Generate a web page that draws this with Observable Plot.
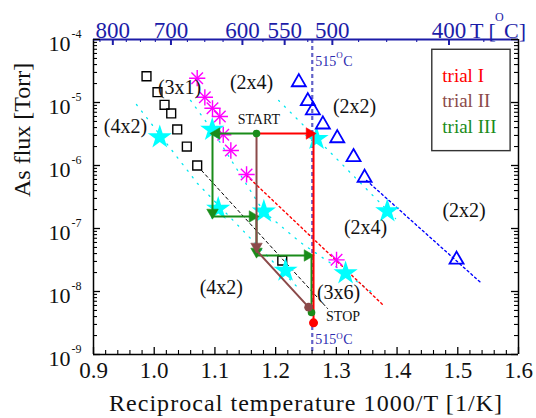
<!DOCTYPE html>
<html><head><meta charset="utf-8">
<script src="https://cdn.jsdelivr.net/npm/d3@7"></script>
<script src="https://cdn.jsdelivr.net/npm/@observablehq/plot@0.6"></script>
<style>
body{margin:0;background:#fff}
#chart svg{display:block;background:#fff}
</style></head><body><div id="chart"></div>
<script>
// ---------- data ----------
const squaresX = [0.9873, 1.0054, 1.0170, 1.0280, 1.0379, 1.0537, 1.0708, 1.2109];
const squaresY = [2.61e-5, 1.46e-5, 9.2e-6, 6.7e-6, 3.73e-6, 2.0e-6, 1.0e-6, 3.1e-8];
const astX = [1.0708, 1.0834, 1.0960, 1.1081, 1.1137, 1.1262, 1.1521, 1.3003];
const astY = [2.43e-5, 1.21e-5, 8.1e-6, 6.0e-6, 3.07e-6, 1.73e-6, 7.2e-7, 3.18e-8];
const starX = [1.0092, 1.0956, 1.2674, 1.1054, 1.1806, 1.3839, 1.2163, 1.3152];
const starY = [2.81e-6, 3.69e-6, 2.65e-6, 2.06e-7, 1.86e-7, 1.88e-7, 2.15e-8, 1.95e-8];
const triX = [1.2382, 1.2530, 1.2613, 1.2778, 1.3015, 1.3283, 1.3465, 1.4980];
const triY = [2.1e-5, 1.05e-5, 7.5e-6, 4.48e-6, 2.71e-6, 1.36e-6, 6.4e-7, 3.2e-8];

// guide lines (x, y pairs)
const blackDashX = [1.0779, 1.2855], blackDashY = [8.34e-7, 5.37e-9];
const redDotX = [1.1521, 1.3778], redDotY = [6.94e-7, 6.0e-9];
const blueDotX = [1.3498, 1.5376], blueDotY = [5.78e-7, 1.39e-8];
const cyan1X = [0.9708, 1.0713, 1.1619, 1.2410], cyan1Y = [9.29e-6, 5.18e-7, 6.46e-8, 1.04e-8];
const cyan2X = [1.0598, 1.0960, 1.1801, 1.2410, 1.3152, 1.3596], cyan2Y = [1.08e-5, 3.6e-6, 1.86e-7, 6.0e-8, 1.93e-8, 9.6e-9];
const cyan3X = [1.2048, 1.2674, 1.3975], cyan3Y = [1.08e-5, 2.69e-6, 1.44e-7];
const line515 = 1.2603;

// trials
const trial1X = [1.1685, 1.2624, 1.2624], trial1Y = [3.22e-6, 3.22e-6, 3.18e-9];
const trial2X = [1.1685, 1.1685, 1.2542], trial2Y = [3.22e-6, 4.48e-8, 5.64e-9];
const trial3X = [1.1685, 1.0960, 1.0960, 1.1685, 1.1685, 1.2591, 1.2591];
const trial3Y = [3.22e-6, 3.22e-6, 1.55e-7, 1.55e-7, 3.73e-8, 3.73e-8, 4.64e-9];
// arrowheads: index of path point, direction
const arrows1 = [[1, "right"]];
const arrows2 = [[1, "down"]];
const arrows3 = [[1, "left"], [2, "down"], [3, "right"], [4, "down"], [5, "right"]];

// labels
const phaseText = ["(3x1)", "(2x4)", "(4x2)", "(2x2)", "(2x2)", "(2x4)", "(4x2)", "(3x6)"];
const phaseX = [1.0417, 1.1603, 0.9527, 1.3300, 1.5104, 1.3481, 1.1106, 1.3036];
const phaseY = [1.73e-5, 2.08e-5, 4.16e-6, 8.65e-6, 1.93e-7, 1.05e-7, 1.17e-8, 9.75e-9];
const markText = ["START", "STOP"];
const markX = [1.1723, 1.3110];
const markY = [5.43e-6, 4.01e-9];

const legendText = ["trial I", "trial II", "trial III"];
const legendColor = ["#ff0000", "#8b4a4a", "#1a8c1a"];
const legendX = 1.4745;
const legendY = [2.61e-5, 1.06e-5, 4.16e-6];
const legendBox = {x1: 1.458, x2: 1.587, y1: 6.87e-5, y2: 1.69e-6};

const xMajor = [0.9, 1.0, 1.1, 1.2, 1.3, 1.4, 1.5, 1.6];
const xLabels = ["0.9", "1.0", "1.1", "1.2", "1.3", "1.4", "1.5", "1.6"];
const yDecades = [1e-4, 1e-5, 1e-6, 1e-7, 1e-8, 1e-9];
const yExp = ["-4", "-5", "-6", "-7", "-8", "-9"];
const topC = [800, 700, 600, 550, 500, 400];
const topMinorC = [825, 775, 750, 725, 675, 650, 625, 575, 525, 475, 450, 425, 375];

// ---------- helpers ----------
const serif = "Liberation Serif, Times New Roman, serif";
const invT = c => 1000 / (c + 273.15);
const zip = (xs, ys) => xs.map((x, i) => ({x, y: ys[i]}));
const fh = 315, fw = 425;
const xMinor = d3.range(0.9, 1.6001, 0.02).map(v => +v.toFixed(2)).filter(v => !xMajor.includes(v));
const yMinor = [];
for (const d of yDecades.slice(1)) for (let k = 2; k <= 9; k++) yMinor.push(d * k);

const colRed = "#ff0000", colBrown = "#8b4a4a", colGreen = "#1a8c1a";
const colAxisBlue = "#1c1ca8";
const cyan = "#00e8f0";

function arrowMarks(xs, ys, list, color) {
  const conf = {right: {rotate: 90, dx: -4, dy: 0}, left: {rotate: -90, dx: 4, dy: 0}, down: {rotate: 180, dx: 0, dy: -4}};
  return Object.keys(conf).map(dir => {
    const pts = list.filter(a => a[1] === dir).map(a => ({x: xs[a[0]], y: ys[a[0]]}));
    return Plot.dot(pts, {x: "x", y: "y", symbol: "triangle", r: 4.3, fill: color, stroke: color, strokeWidth: 0.5,
      rotate: conf[dir].rotate, dx: conf[dir].dx, dy: conf[dir].dy});
  });
}

const chart = Plot.plot({
  width: 536, height: 418,
  marginLeft: 93, marginRight: 18, marginTop: 39, marginBottom: 64,
  style: {background: "#fff", fontFamily: serif},
  x: {domain: [0.9, 1.6], axis: null},
  y: {type: "log", domain: [1e-9, 1e-4], axis: null},
  marks: [
    // guide lines
    Plot.line(zip(cyan1X, cyan1Y), {x: "x", y: "y", stroke: cyan, strokeWidth: 1.3, strokeDasharray: "1.3,7"}),
    Plot.line(zip(cyan2X, cyan2Y), {x: "x", y: "y", stroke: cyan, strokeWidth: 1.3, strokeDasharray: "1.3,7"}),
    Plot.line(zip(cyan3X, cyan3Y), {x: "x", y: "y", stroke: cyan, strokeWidth: 1.3, strokeDasharray: "1.3,7"}),
    Plot.line(zip(blackDashX, blackDashY), {x: "x", y: "y", stroke: "#000", strokeWidth: 1, strokeDasharray: "3,3"}),
    Plot.line(zip(redDotX, redDotY), {x: "x", y: "y", stroke: "#ff0000", strokeWidth: 1.4, strokeDasharray: "2,3"}),
    Plot.line(zip(blueDotX, blueDotY), {x: "x", y: "y", stroke: "#0000ff", strokeWidth: 1.4, strokeDasharray: "2,3"}),
    Plot.ruleX([line515], {stroke: "#6262c8", strokeWidth: 2.2, strokeDasharray: "4,3"}),
    // data symbols
    Plot.dot(zip(squaresX, squaresY), {x: "x", y: "y", symbol: "square", r: 5, stroke: "#000", fill: "none", strokeWidth: 1.4}),
    Plot.dot(zip(astX, astY), {x: "x", y: "y", symbol: "plus", r: 5.3, stroke: "#ff00ff", strokeWidth: 1.4}),
    Plot.dot(zip(astX, astY), {x: "x", y: "y", symbol: "times", r: 5.3, stroke: "#ff00ff", strokeWidth: 1.4}),
    Plot.dot(zip(starX, starY), {x: "x", y: "y", symbol: "star", r: 7.6, fill: "#00ffff", stroke: "none"}),
    Plot.dot(zip(triX, triY), {x: "x", y: "y", symbol: "triangle", r: 5.2, stroke: "#0000ff", fill: "none", strokeWidth: 1.8}),
    // trials
    Plot.line(zip(trial3X, trial3Y), {x: "x", y: "y", stroke: colGreen, strokeWidth: 2}),
    ...arrowMarks(trial3X, trial3Y, arrows3, colGreen),
    Plot.line(zip(trial2X, trial2Y), {x: "x", y: "y", stroke: colBrown, strokeWidth: 2}),
    ...arrowMarks(trial2X, trial2Y, arrows2, colBrown),
    Plot.line(zip(trial1X, trial1Y), {x: "x", y: "y", stroke: colRed, strokeWidth: 2}),
    ...arrowMarks(trial1X, trial1Y, arrows1, colRed),
    Plot.dot([{x: trial3X[6], y: trial3Y[6]}], {x: "x", y: "y", r: 3.8, fill: colGreen}),
    Plot.dot([{x: trial2X[2], y: trial2Y[2]}], {x: "x", y: "y", r: 4.3, fill: colBrown}),
    Plot.dot([{x: trial1X[2], y: trial1Y[2]}], {x: "x", y: "y", r: 4.5, fill: colRed}),
    Plot.dot([{x: trial3X[0], y: trial3Y[0]}], {x: "x", y: "y", r: 3.8, fill: colGreen}),
    // text labels
    Plot.text(phaseText, {x: (d, i) => phaseX[i], y: (d, i) => phaseY[i], text: d => d, fontSize: 20, fill: "#111", fontFamily: serif}),
    Plot.text(markText, {x: (d, i) => markX[i], y: (d, i) => markY[i], text: d => d, fontSize: 14, fill: "#111", fontFamily: serif}),
    // 515 labels
    Plot.text([line515], {x: d => d, frameAnchor: "top", dy: 17, dx: 3, textAnchor: "start", text: () => "515", fontSize: 14, fill: "#2b2bb0", fontFamily: serif}),
    Plot.text([line515], {x: d => d, frameAnchor: "top", dy: 12, dx: 24, textAnchor: "start", text: () => "O", fontSize: 9, fill: "#2b2bb0", fontFamily: serif}),
    Plot.text([line515], {x: d => d, frameAnchor: "top", dy: 17, dx: 31, textAnchor: "start", text: () => "C", fontSize: 14, fill: "#2b2bb0", fontFamily: serif}),
    Plot.text([line515], {x: d => d, frameAnchor: "bottom", dy: -11, dx: 3, textAnchor: "start", text: () => "515", fontSize: 14, fill: "#2b2bb0", fontFamily: serif}),
    Plot.text([line515], {x: d => d, frameAnchor: "bottom", dy: -16, dx: 24, textAnchor: "start", text: () => "O", fontSize: 9, fill: "#2b2bb0", fontFamily: serif}),
    Plot.text([line515], {x: d => d, frameAnchor: "bottom", dy: -11, dx: 31, textAnchor: "start", text: () => "C", fontSize: 14, fill: "#2b2bb0", fontFamily: serif}),
    // legend
    Plot.rect([legendBox], {x1: "x1", x2: "x2", y1: "y1", y2: "y2", fill: "none", stroke: "#333", strokeWidth: 1.4}),
    Plot.text(legendText, {x: () => legendX, y: (d, i) => legendY[i], text: d => d, fill: (d, i) => legendColor[i], textAnchor: "start", fontSize: 19, fontFamily: serif}),
    // frame
    Plot.ruleX([0.9, 1.6], {stroke: "#000", strokeWidth: 1.5}),
    Plot.ruleY([1e-9], {stroke: "#000", strokeWidth: 1.5}),
    Plot.ruleY([1e-4], {stroke: colAxisBlue, strokeWidth: 1.8}),
    // bottom ticks
    Plot.tickX(xMajor, {x: d => d, stroke: "#000", strokeWidth: 1.3, insetTop: fh - 7}),
    Plot.tickX(xMinor, {x: d => d, stroke: "#000", strokeWidth: 1.1, insetTop: fh - 4}),
    // top ticks (°C)
    Plot.tickX(topC, {x: invT, stroke: colAxisBlue, strokeWidth: 2, insetBottom: fh - 6}),
    Plot.tickX(topMinorC, {x: invT, stroke: colAxisBlue, strokeWidth: 1.1, insetBottom: fh - 3}),
    // left / right ticks
    Plot.tickY(yDecades, {y: d => d, stroke: "#000", strokeWidth: 1.3, insetRight: fw - 7}),
    Plot.tickY(yMinor, {y: d => d, stroke: "#000", strokeWidth: 1.1, insetRight: fw - 4}),
    Plot.tickY(yDecades, {y: d => d, stroke: "#000", strokeWidth: 1.3, insetLeft: fw - 7}),
    Plot.tickY(yMinor, {y: d => d, stroke: "#000", strokeWidth: 1.1, insetLeft: fw - 4}),
    // tick labels
    Plot.text(xMajor, {x: d => d, frameAnchor: "bottom", dy: 23, text: (d, i) => xLabels[i], fontSize: 23, fill: "#111", fontFamily: serif}),
    Plot.text(yDecades, {y: d => d, frameAnchor: "left", dx: -23, dy: 4, textAnchor: "end", text: () => "10", fontSize: 22, fill: "#111", fontFamily: serif}),
    Plot.text(yDecades, {y: d => d, frameAnchor: "left", dx: -22, dy: -5, textAnchor: "start", text: (d, i) => yExp[i], fontSize: 12, fill: "#111", fontFamily: serif}),
    Plot.text(topC, {x: invT, frameAnchor: "top", dy: -17.5, text: d => String(d), fontSize: 23, fill: colAxisBlue, fontFamily: serif}),
    Plot.text([400], {x: invT, frameAnchor: "top", dy: -17.5, dx: 21, textAnchor: "start", text: () => "T [", fontSize: 22, fill: colAxisBlue, fontFamily: serif}),
    Plot.text([400], {x: invT, frameAnchor: "top", dy: -27, dx: 46, textAnchor: "start", text: () => "O", fontSize: 12, fill: colAxisBlue, fontFamily: serif}),
    Plot.text([400], {x: invT, frameAnchor: "top", dy: -17.5, dx: 55, textAnchor: "start", text: () => "C]", fontSize: 22, fill: colAxisBlue, fontFamily: serif}),
    // axis titles
    Plot.text(["Reciprocal temperature 1000/T [1/K]"], {frameAnchor: "bottom", dy: 56.5, text: d => d, fontSize: 24, fill: "#111", fontFamily: serif}),
    Plot.text(["As flux [Torr]"], {frameAnchor: "left", dx: -71, rotate: -90, text: d => d, fontSize: 24, fill: "#111", fontFamily: serif})
  ]
});
d3.select(chart).selectAll("text")
  .filter(function() { return this.textContent.startsWith("Reciprocal"); })
  .attr("letter-spacing", "1.05");
document.getElementById("chart").appendChild(chart);
</script>
</body></html>
